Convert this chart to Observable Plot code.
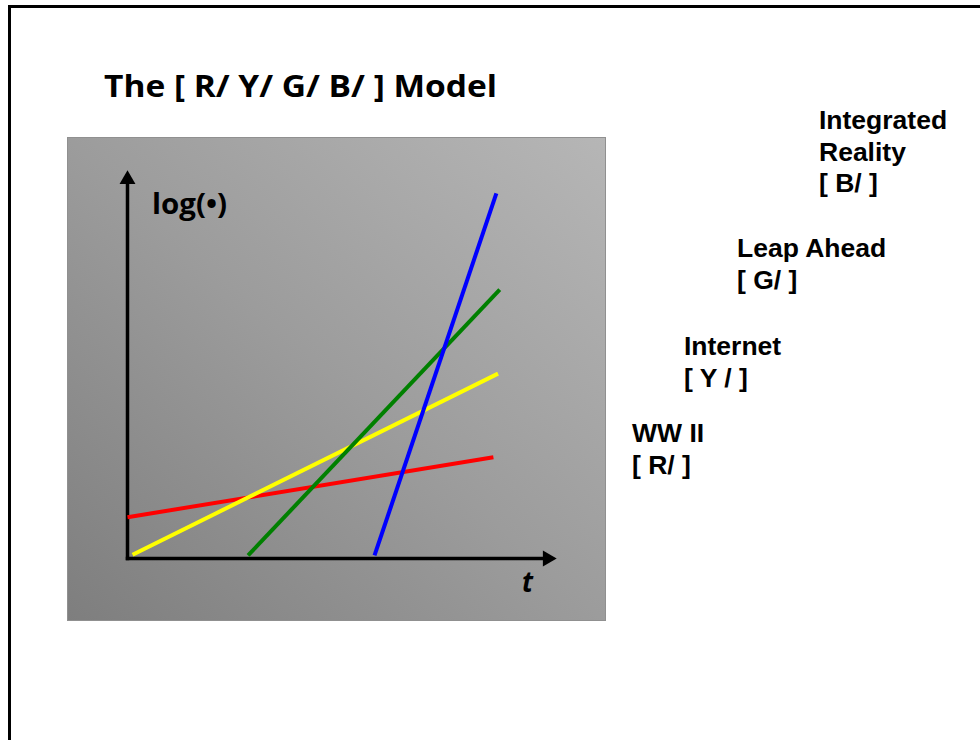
<!DOCTYPE html>
<html>
<head>
<meta charset="utf-8">
<script src="https://cdn.jsdelivr.net/npm/d3@7"></script>
<script src="https://cdn.jsdelivr.net/npm/@observablehq/plot@0.6"></script>
<style>
  html, body { margin: 0; padding: 0; background: #fff; overflow: hidden; }
  #page { position: relative; width: 980px; height: 740px; overflow: hidden; background: #fff; }
  #frame { position: absolute; left: 8px; top: 5px; width: 1000px; height: 800px;
           border-left: 3px solid #000; border-top: 3px solid #000; box-sizing: border-box; }
  #panel { position: absolute; left: 67px; top: 137px; width: 539px; height: 484px;
           background: linear-gradient(to top right, #7e7e7e 0%, #9c9c9c 50%, #b6b6b6 100%);
           box-shadow: inset 0 0 0 1px #909090; }
  #panel svg { position: absolute; left: 0; top: 0; }
  #texts { position: absolute; left: 0; top: 0; pointer-events: none; }
</style>
</head>
<body>
<div id="page">
  <div id="frame"></div>
  <div id="panel"></div>
  <svg id="texts" width="980" height="740"></svg>
</div>
<script>
// ---- Data (t and log(•) in arbitrary units) ----
const seriesNames = ["R", "Y", "G", "B"];
const seriesColors = ["#ff0000", "#ffff00", "#008000", "#0000ff"];
const redT = [0.00, 8.65],  redV = [1.08, 2.65];
const yellowT = [0.12, 8.76], yellowV = [0.10, 4.84];
const greenT = [2.85, 8.80], greenV = [0.08, 7.04];
const blueT = [5.84, 8.72],  blueV = [0.08, 9.56];
const axisMax = 10;
const titleText = "The [ R/ Y/ G/ B/ ] Model";
const yAxisLabel = "log(\u2022)";
const xAxisLabel = "t";
const labelLines = [
  ["WW II", "[ R/ ]"],
  ["Internet", "[ Y / ]"],
  ["Leap Ahead", "[ G/ ]"],
  ["Integrated", "Reality", "[ B/ ]"]
];

// ---- Build table ----
const seriesT = [redT, yellowT, greenT, blueT];
const seriesV = [redV, yellowV, greenV, blueV];
const rows = [];
seriesNames.forEach((s, i) => {
  seriesT[i].forEach((t, j) => rows.push({series: s, t, v: seriesV[i][j]}));
});
const axes = [
  {x1: 0, y1: 0, x2: axisMax, y2: 0},
  {x1: 0, y1: 0, x2: 0, y2: axisMax}
];

const chart = Plot.plot({
  width: 539,
  height: 484,
  marginLeft: 60,
  marginRight: 56,
  marginTop: 39,
  marginBottom: 63,
  style: {background: "transparent", overflow: "visible"},
  x: {domain: [0, axisMax], axis: null},
  y: {domain: [0, axisMax], axis: null},
  color: {domain: seriesNames, range: seriesColors},
  marks: [
    Plot.link(axes, {x1: "x1", y1: "y1", x2: "x2", y2: "y2", stroke: "#000", strokeWidth: 3.5, strokeLinecap: "square"}),
    Plot.dot([{t: axisMax, v: 0}], {x: "t", y: "v", rotate: 90, dx: -3, symbol: "triangle2", r: 7.6, fill: "#000", stroke: "none"}),
    Plot.dot([{t: 0, v: axisMax}], {x: "t", y: "v", rotate: 0, dy: 3, symbol: "triangle2", r: 7.6, fill: "#000", stroke: "none"}),
    Plot.line(rows, {x: "t", y: "v", z: "series", stroke: "series", strokeWidth: 4, strokeLinecap: "butt"})
  ]
});
document.getElementById("panel").appendChild(chart);

// ---- Texts ----
const svg = d3.select("#texts");
function addText(str, x, y, font, size, weight, style, fitWidth) {
  const el = svg.append("text")
    .attr("x", x).attr("y", y)
    .attr("font-family", font)
    .attr("font-size", size)
    .attr("font-weight", weight)
    .attr("font-style", style || "normal")
    .attr("fill", "#000")
    .text(str);
  if (fitWidth) {
    el.attr("textLength", fitWidth).attr("lengthAdjust", "spacingAndGlyphs");
  }
  return el;
}
addText(titleText, 104, 97, "'Open Sans', 'Noto Sans', sans-serif", 31, 700, "normal", 393);
addText(yAxisLabel, 152, 214, "'Open Sans', 'Noto Sans', sans-serif", 28, 700, "normal", 75);
addText(xAxisLabel, 522, 592, "'Open Sans', 'Noto Sans', sans-serif", 28, 700, "italic", 11);

const labelPos = [[632, 442], [684, 355], [737, 257], [819, 129]];
const lineHeight = 31.6;
labelLines.forEach((lines, i) => {
  lines.forEach((ln, j) => {
    addText(ln, labelPos[i][0], labelPos[i][1] + j * lineHeight,
      "'Liberation Sans', Arial, sans-serif", 26.5, 700, "normal");
  });
});
</script>
</body>
</html>
